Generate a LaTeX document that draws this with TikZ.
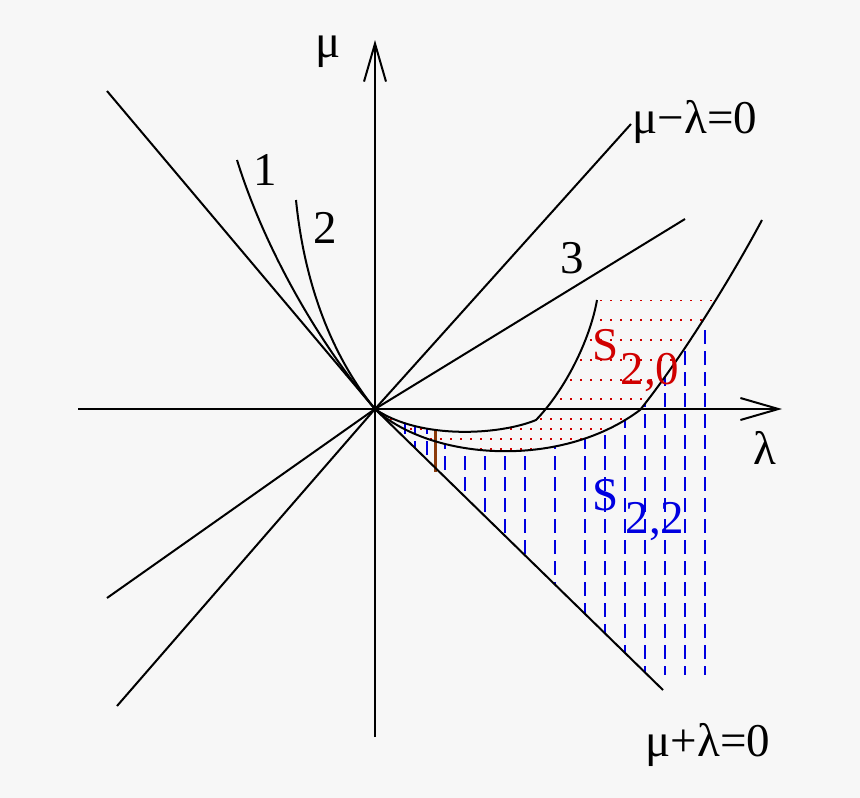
\documentclass[tikz,border=0pt]{standalone}
\usepackage{fontspec}
\setmainfont{Liberation Serif}
\usetikzlibrary{arrows.meta}
\definecolor{bg}{HTML}{F7F7F7}
\definecolor{sred}{HTML}{D00000}
\definecolor{sblue}{HTML}{0000E0}
\definecolor{brownl}{HTML}{8B3A0A}
\begin{document}
\begin{tikzpicture}[x=1pt,y=-1pt,line width=2pt,
  lbl/.style={font=\fontsize{47}{50}\selectfont,inner sep=0pt},
  axis/.style={-{Straight Barb[length=38pt,width=22pt,line width=2pt]}}]
\fill[bg] (0,0) rectangle (860,798);
\useasboundingbox (0,0) rectangle (860,798);
\coordinate (O) at (375,409);
\coordinate (K) at (536,420);
\coordinate (T) at (597,300);
\coordinate (C) at (640,410);
\coordinate (E) at (762,220);
% red dotted region
\begin{scope}
\clip (O) .. controls (420,440) and (500,435) .. (K) .. controls (565,390) and (590,340) .. (T) -- (720,300) -- (762,220) -- (E) .. controls (730,280) and (680,360) .. (C) .. controls (560,470) and (430,460) .. (O);
\foreach \y in {300,320,340,360,380,399,419,429,439,449}
  \draw[sred,line width=2.4pt,dash pattern=on 2.4pt off 7.6pt] (380,\y) -- (720,\y);
\end{scope}
% blue dashed region
\begin{scope}
\clip (O) .. controls (430,460) and (560,470) .. (C) .. controls (680,360) and (730,280) .. (E) -- (800,220) -- (800,675) -- (663,690) -- (O);
\foreach \x in {445,465,485,505,525,555,585,605,625,645,665,685,705}
  \draw[sblue,line width=2pt,dash pattern=on 14pt off 7pt] (\x,330) -- (\x,675);
\end{scope}
\begin{scope}
\clip (O) .. controls (420,440) and (500,435) .. (K) -- (K |- 0,700) -- (663,690) -- (O);
\foreach \x in {405,415,427}
  \draw[sblue,line width=2pt,dash pattern=on 14pt off 7pt] (\x,420) -- (\x,675);
\end{scope}
\draw[brownl,line width=3pt] (435,429) -- (435,472);
% axes
\draw[axis] (78,409) -- (782,409);
\draw[axis] (375,737) -- (375,40);
% lines
\coordinate (a1) at (117,706); \coordinate (a2) at (631,124);
\coordinate (b1) at (107,91); \coordinate (b2) at (663,690);
\coordinate (c1) at (107,598); \coordinate (c2) at (685,219);
\draw (a1) -- (O) -- (a2);
\draw (b1) -- (O) -- (b2);
\draw (c1) -- (O) -- (c2);
% curves
\draw (237,160) .. controls (265,250) and (320,345) .. (O);
\draw (296,200) .. controls (305,290) and (335,360) .. (O);
\draw (O) .. controls (420,440) and (500,435) .. (K) .. controls (565,390) and (590,340) .. (T);
\draw (O) .. controls (430,460) and (560,470) .. (C) .. controls (680,360) and (730,280) .. (E);
% labels
\node[lbl] (mu) at (328,52) {μ};
\node[lbl] (lam) at (765,448) {λ};
\node[lbl] (l1) at (695,122) {μ−λ=0};
\node[lbl] (l2) at (708,745) {μ+λ=0};
\node[lbl] (n1) at (265,170) {1};
\node[lbl] (n2) at (325,228) {2};
\node[lbl] (n3) at (572,258) {3};
\node[lbl,text=sred] (s20) at (606,345) {S};
\node[lbl,text=sred] (s20i) at (650,372) {2,0};
\node[lbl,text=sblue] (s22) at (606,495) {S};
\node[lbl,text=sblue] (s22i) at (655,522) {2,2};
\end{tikzpicture}
\end{document}
